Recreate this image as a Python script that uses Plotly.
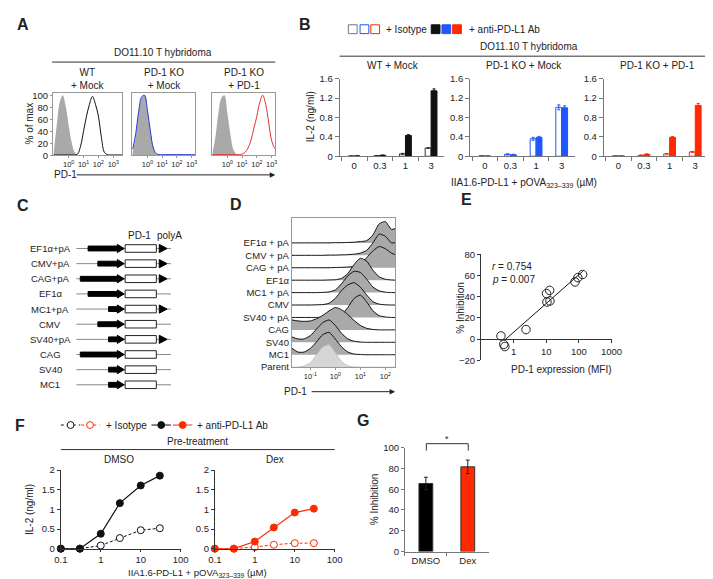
import numpy as np
import plotly.graph_objects as go

W, H = 713, 579
FONT = "Liberation Sans, Arial, Helvetica, sans-serif"
BLUE = "#1f56ff"
RED = "#ff2a00"
GRAY_FILL = "#a9a9a9"
TXT = "#222222"
TS = 10      # label text size
TK = 9.5     # tick text size

# ------------------------------------------------------------------ DATA
# Panel A: PD-1 flow histograms (% of max) on log10 PD-1 intensity bins
A_log_pd1 = [-1.0, -0.8, -0.6, -0.4, -0.2, 0.0, 0.2, 0.4, 0.6, 0.8, 1.0, 1.2,
             1.4, 1.6, 1.8, 2.0, 2.2, 2.4, 2.6, 2.8, 3.0, 3.2, 3.4, 3.6]
A_wt_isotype = [5, 50, 88, 100, 82, 50, 22, 5, 0, 0, 0, 0, 0, 0, 0, 0, 0, 0, 0, 0, 0, 0, 0, 0]
A_wt_mock = [0.5, 0.5, 0.5, 0.5, 0.5, 0.5, 0.5, 0.5, 2, 15, 40, 65, 85, 98, 85, 65, 30, 5, 1,
             0.5, 0.5, 0.5, 0.5, 0.5]
A_ko_isotype = [5, 30, 70, 95, 100, 72, 38, 12, 2, 0, 0, 0, 0, 0, 0, 0, 0, 0, 0, 0, 0, 0, 0, 0]
A_ko_mock = [10, 35, 72, 97, 100, 75, 40, 12, 3, 1, 1, 1, 1, 1, 1, 1, 1, 1, 1, 1, 1, 1, 1, 1]
A_re_isotype = [5, 32, 72, 96, 100, 70, 36, 10, 2, 0, 0, 0, 0, 0, 0, 0, 0, 0, 0, 0, 0, 0, 0, 0]
A_re_pd1 = [1, 1, 1, 1, 1, 1, 1, 1, 1, 1, 2, 5, 12, 25, 45, 65, 88, 100, 85, 55, 25, 12, 8, 6]
A_titles = ["WT<br>+ Mock", "PD-1 KO<br>+ Mock", "PD-1 KO<br>+ PD-1"]
A_ticks = [1, 10, 100, 1000]
A_ticktext = ["10<sup>0</sup>", "10<sup>1</sup>", "10<sup>2</sup>", "10<sup>3</sup>"]

# Panel B: IL-2 (ng/ml)
B_doses = ["0", "0.3", "1", "3"]
B_titles = ["WT + Mock", "PD-1 KO + Mock", "PD-1 KO + PD-1"]
B_wt_iso = [0.005, 0.01, 0.05, 0.17]
B_wt_iso_err = [0.0, 0.003, 0.01, 0.01]
B_wt_anti = [0.005, 0.02, 0.43, 1.35]
B_wt_anti_err = [0.0, 0.005, 0.015, 0.04]
B_ko_iso = [0.01, 0.04, 0.36, 1.01]
B_ko_iso_err = [0.005, 0.01, 0.03, 0.05]
B_ko_anti = [0.005, 0.03, 0.39, 1.00]
B_ko_anti_err = [0.003, 0.01, 0.02, 0.04]
B_re_iso = [0.01, 0.02, 0.05, 0.09]
B_re_iso_err = [0.0, 0.005, 0.005, 0.01]
B_re_anti = [0.01, 0.04, 0.39, 1.05]
B_re_anti_err = [0.005, 0.01, 0.015, 0.04]

# Panel C: constructs (relative promoter length, polyA present)
C_names = ["EF1\u03b1+pA", "CMV+pA", "CAG+pA", "EF1\u03b1", "MC1+pA", "CMV",
           "SV40+pA", "CAG", "SV40", "MC1"]
C_promoter_len = [37, 27, 45, 37, 16, 27, 16, 45, 16, 16]
C_polyA = [True, True, True, False, True, False, True, False, False, False]

# Panel D: offset histograms (% of max), bottom to top
D_log_pd1 = [-1.75, -1.5, -1.25, -1.0, -0.75, -0.5, -0.25, 0.0, 0.25, 0.5, 0.75, 1.0,
             1.25, 1.5, 1.75, 2.0, 2.25, 2.5]
D_labels = ["Parent", "MC1", "SV40", "CAG", "SV40 + pA", "CMV", "MC1 + pA",
            "EF1\u03b1", "CAG + pA", "CMV + pA", "EF1\u03b1 + pA"]
D_hist = [
    [0, 0, 5, 20, 55, 90, 100, 65, 25, 6, 1, 0, 0, 0, 0, 0, 0, 0],        # Parent
    [30, 12, 12, 28, 58, 90, 100, 70, 35, 12, 3, 1, 0, 0, 0, 0, 0, 0],    # MC1
    [25, 15, 15, 30, 60, 88, 100, 75, 40, 15, 5, 1, 0, 0, 0, 0, 0, 0],    # SV40
    [45, 40, 38, 40, 50, 65, 85, 100, 90, 68, 42, 20, 7, 2, 0, 0, 0, 0],  # CAG
    [0, 0, 0, 0, 0, 1, 2, 3, 12, 45, 85, 100, 70, 30, 8, 2, 0, 0],        # SV40 + pA
    [0, 0, 0, 0, 1, 2, 8, 30, 65, 90, 100, 80, 45, 15, 4, 1, 0, 0],       # CMV
    [0, 0, 0, 0, 0, 1, 3, 12, 40, 75, 95, 90, 60, 25, 8, 2, 0, 0],        # MC1 + pA
    [0, 0, 0, 0, 0, 0, 1, 2, 8, 30, 70, 98, 85, 45, 15, 4, 1, 0],         # EF1a
    [0, 0, 0, 0, 0, 0, 0, 1, 2, 3, 6, 15, 45, 75, 95, 85, 65, 55],        # CAG + pA
    [0, 0, 0, 0, 0, 0, 1, 1, 2, 3, 5, 10, 22, 55, 95, 85, 55, 60],        # CMV + pA
    [0, 0, 0, 0, 0, 0, 0, 1, 1, 2, 3, 6, 10, 35, 85, 95, 60, 70],         # EF1a + pA
]
D_ticks = [0.1, 1, 10, 100]
D_ticktext = ["10<sup>-1</sup>", "10<sup>0</sup>", "10<sup>1</sup>", "10<sup>2</sup>"]

# Panel E: % inhibition vs PD-1 MFI
E_mfi = [0.41, 0.50, 0.54, 2.4, 10.2, 12.7, 10.5, 13.0, 76, 93, 130]
E_inh = [3, -5, -7, 9, 43, 46, 35, 36, 54, 58, 61]

# Panel F: IL-2 (ng/ml) vs peptide dose
F_dose = [0.1, 0.3, 1, 3, 10, 30]
F_dmso_iso = [0, 0, 0.08, 0.27, 0.47, 0.52]
F_dmso_anti = [0, 0, 0.38, 1.16, 1.61, 1.86]
F_dex_iso = [0, 0, 0.04, 0.10, 0.14, 0.14]
F_dex_anti = [0, 0, 0.18, 0.54, 0.92, 1.02]
F_dex_anti_err = [0, 0, 0.01, 0.02, 0.03, 0.05]

# Panel G: % inhibition
G_groups = ["DMSO", "Dex"]
G_mean = [65.5, 81.5]
G_err = [6.0, 6.5]

# ------------------------------------------------------------------ HELPERS
def fx(p):
    return p / W


def fy(p):
    return 1 - p / H


def refs(i):
    return ("x" if i == 1 else f"x{i}"), ("y" if i == 1 else f"y{i}")


layout = {}
annotations = []
shapes = []
traces = []

BASE = dict(showgrid=False, zeroline=False, showline=True, linecolor="#333", linewidth=1,
            ticks="outside", ticklen=3, tickwidth=1, tickcolor="#333",
            tickfont=dict(size=TK, color=TXT, family=FONT), fixedrange=True)


def set_axes(i, xpx, ypx, xa, ya):
    xn = "xaxis" if i == 1 else f"xaxis{i}"
    yn = "yaxis" if i == 1 else f"yaxis{i}"
    xr, yr = refs(i)
    d = dict(BASE)
    d.update(domain=[fx(xpx[0]), fx(xpx[1])], anchor=yr)
    d.update(xa)
    layout[xn] = d
    d = dict(BASE)
    d.update(domain=[fy(ypx[1]), fy(ypx[0])], anchor=xr)
    d.update(ya)
    layout[yn] = d


def txt(x, y, s, size=TS, xanchor="center", yanchor="middle", angle=0, bold=False, color=TXT):
    if bold:
        s = f"<b>{s}</b>"
    annotations.append(dict(x=fx(x), y=fy(y), xref="paper", yref="paper", text=s,
                            showarrow=False, xanchor=xanchor, yanchor=yanchor,
                            textangle=angle, font=dict(size=size, family=FONT, color=color)))


def hline(x0, x1, y, color="#333", width=1, dash="solid"):
    shapes.append(dict(type="line", xref="paper", yref="paper", x0=fx(x0), x1=fx(x1),
                       y0=fy(y), y1=fy(y), line=dict(color=color, width=width, dash=dash)))


def vline(x, y0, y1, color="#333", width=1):
    shapes.append(dict(type="line", xref="paper", yref="paper", x0=fx(x), x1=fx(x),
                       y0=fy(y0), y1=fy(y1), line=dict(color=color, width=width)))


def arrow(x0, x1, y):
    annotations.append(dict(x=fx(x1), y=fy(y), xref="paper", yref="paper", ax=x0 - x1, ay=0,
                            text="", showarrow=True, arrowhead=2, arrowsize=1.1,
                            arrowwidth=1, arrowcolor="#222"))


def rect(x0, x1, y0, y1, fill, line):
    shapes.append(dict(type="rect", xref="paper", yref="paper", x0=fx(x0), x1=fx(x1),
                       y0=fy(y1), y1=fy(y0), fillcolor=fill, line=dict(color=line, width=1)))


def circle(cx, cy, r, fill, line):
    shapes.append(dict(type="circle", xref="paper", yref="paper", x0=fx(cx - r), x1=fx(cx + r),
                       y0=fy(cy + r), y1=fy(cy - r), fillcolor=fill, line=dict(color=line, width=1)))


# ------------------------------------------------------------------ PANEL A
A_px = [(39, 110, [-1.05, 3.6]), (120, 185, [-1.05, 3.25]), (202, 267, [-1.05, 3.25])]
A_sets = [(A_wt_isotype, A_wt_mock, "#111"), (A_ko_isotype, A_ko_mock, "#2233cc"),
          (A_re_isotype, A_re_pd1, "#e03030")]
A_x = [10 ** v for v in A_log_pd1]
for k in range(3):
    i = k + 1
    x0, x1, rng = A_px[k]
    set_axes(i, (x0, x1), (81, 144),
             dict(type="log", range=rng, tickvals=A_ticks, ticktext=A_ticktext, mirror=True,
                  linecolor="#999", ticklen=2, tickcolor="#999",
                  tickfont=dict(size=7.5, color=TXT, family=FONT)),
             dict(range=[0, 103], tickvals=[0, 20, 40, 60, 80, 100], mirror=True,
                  linecolor="#999", showticklabels=(k == 0), ticks="outside" if k == 0 else "",
                  ticklen=2, tickcolor="#999"))
    xr, yr = refs(i)
    iso, samp, col = A_sets[k]
    traces.append(go.Scatter(x=A_x, y=iso, xaxis=xr, yaxis=yr, mode="lines", fill="tozeroy",
                             fillcolor=GRAY_FILL, line=dict(width=0, shape="spline", color=GRAY_FILL)))
    traces.append(go.Scatter(x=A_x, y=samp, xaxis=xr, yaxis=yr, mode="lines",
                             line=dict(width=1, shape="spline", color=col)))
    txt((x0 + x1) / 2, 66, A_titles[k])

txt(8, 11, "A", size=16, bold=True)
txt(152, 39, "DO11.10 T hybridoma")
hline(38, 267, 49)
txt(15, 112, "% of max", angle=-90)
txt(52, 164, "PD-1")
arrow(67, 267, 164)

# ------------------------------------------------------------------ PANEL B
B_sets = [(B_wt_iso, B_wt_iso_err, B_wt_anti, B_wt_anti_err, "#111111", "#333333"),
          (B_ko_iso, B_ko_iso_err, B_ko_anti, B_ko_anti_err, BLUE, BLUE),
          (B_re_iso, B_re_iso_err, B_re_anti, B_re_anti_err, RED, RED)]
B_px = [333, 467, 604]
for k in range(3):
    i = 4 + k
    x0 = B_px[k]
    set_axes(i, (x0, x0 + 107), (66, 145),
             dict(type="category", categoryorder="array", categoryarray=B_doses,
                  range=[-0.57, 3.5], tickson="boundaries", ticklen=4, linecolor="#777",
                  tickcolor="#777"),
             dict(range=[0, 1.6], tickvals=[0, 0.4, 0.8, 1.2, 1.6],
                  ticktext=["0", "0.4", "0.8", "1.2", "1.6"], ticklen=4, linecolor="#777",
                  tickcolor="#777"))
    xr, yr = refs(i)
    iso, iso_e, anti, anti_e, col, ocol = B_sets[k]
    traces.append(go.Bar(x=B_doses, y=iso, xaxis=xr, yaxis=yr, width=0.23, offset=-0.23,
                         marker=dict(color="white", line=dict(color=ocol, width=1)),
                         error_y=dict(type="data", array=iso_e, color=ocol, thickness=1, width=1.5)))
    traces.append(go.Bar(x=B_doses, y=anti, xaxis=xr, yaxis=yr, width=0.23, offset=0,
                         marker=dict(color=col, line=dict(color=col, width=1)),
                         error_y=dict(type="data", array=anti_e, color=col, thickness=1, width=1.5)))
    txt(x0 + 55, 53, B_titles[k])

txt(297, 11, "B", size=16, bold=True)
for xx, c in [(342, "#777"), (354, BLUE), (365, RED)]:
    rect(xx, xx + 9, 11, 20, "white", c)
for xx, c in [(427, "#111"), (438, BLUE), (449, RED)]:
    rect(xx, xx + 9, 11, 20, c, c)
txt(379, 15.5, "+ Isotype", xanchor="left")
txt(464, 15.5, "+ anti-PD-L1 Ab", xanchor="left")
txt(527, 33, "DO11.10 T hybridoma")
hline(333, 710, 43)
txt(303, 105, "IL-2 (ng/ml)", angle=-90)
txt(522, 172, "IIA1.6-PD-L1 + pOVA<sub>323\u2013339</sub> (\u00b5M)")

# ------------------------------------------------------------------ PANEL C
n_c = len(C_names)
set_axes(7, (60, 162), (229, 388),
         dict(range=[-52, 50], visible=False),
         dict(range=[n_c - 1 + 0.65, -0.65], visible=False))
half_bar, half_head, head_len = 0.16, 0.27, 7
for r in range(n_c):
    shapes.append(dict(type="line", xref="x7", yref="y7", x0=-49, x1=48, y0=r, y1=r,
                       line=dict(color="#888", width=1), layer="above"))
for r in range(n_c):
    s = -C_promoter_len[r]
    path = (f"M {s},{r - half_bar} L {-head_len},{r - half_bar} L {-head_len},{r - half_head} "
            f"L 0,{r} L {-head_len},{r + half_head} L {-head_len},{r + half_bar} "
            f"L {s},{r + half_bar} Z")
    shapes.append(dict(type="path", xref="x7", yref="y7", path=path, fillcolor="black",
                       line=dict(color="black", width=1), layer="above"))
    shapes.append(dict(type="rect", xref="x7", yref="y7", x0=1, x1=33, y0=r - 0.25, y1=r + 0.25,
                       fillcolor="white", line=dict(color="#222", width=1), layer="above"))
    if C_polyA[r]:
        shapes.append(dict(type="path", xref="x7", yref="y7",
                           path=f"M 36,{r - half_head} L 44,{r} L 36,{r + half_head} Z",
                           fillcolor="black", line=dict(color="black", width=1), layer="above"))
    annotations.append(dict(x=fx(36), y=r, xref="paper", yref="y7", text=C_names[r],
                            showarrow=False, xanchor="center", yanchor="middle",
                            font=dict(size=TK, family=FONT, color=TXT)))
traces.append(go.Scatter(x=[0], y=[0], xaxis="x7", yaxis="y7", mode="markers",
                         marker=dict(size=1, color="rgba(0,0,0,0)")))
txt(8, 195, "C", size=16, bold=True)
txt(128, 226, "PD-1")
txt(158, 226, "polyA")

# ------------------------------------------------------------------ PANEL D
set_axes(8, (284, 390), (208, 360),
         dict(type="log", range=[-1.74, 2.39], tickvals=D_ticks, ticktext=D_ticktext,
              mirror=True, linecolor="#999", tickcolor="#999", ticklen=2,
              tickfont=dict(size=7.5, color=TXT, family=FONT)),
         dict(range=[0, 12], tickvals=list(range(len(D_labels))), ticktext=D_labels,
              ticks="", mirror=True, linecolor="#999", tickfont=dict(size=TK, color=TXT, family=FONT)))
D_x = [10 ** v for v in D_log_pd1]
peak_units = 1.8
for r in range(len(D_labels) - 1, -1, -1):
    ys = [r + v / 100 * peak_units for v in D_hist[r]]
    fillc = "#d6d6d6" if r == 0 else GRAY_FILL
    linec = "#c4c4c4" if r == 0 else "#111"
    traces.append(go.Scatter(x=D_x + D_x[::-1], y=ys + [r] * len(D_x), xaxis="x8", yaxis="y8",
                             mode="lines", fill="toself", fillcolor=fillc,
                             line=dict(width=0, color=fillc)))
    traces.append(go.Scatter(x=D_x, y=ys, xaxis="x8", yaxis="y8", mode="lines",
                             line=dict(width=1, color=linec, shape="spline", smoothing=0.6)))
txt(227, 194, "D", size=16, bold=True)
txt(288, 385, "PD-1")
arrow(305, 390, 385)

# ------------------------------------------------------------------ PANEL E
e_top, e_bot = 245, 353
y0_px = e_top + (80 - 0) / 100 * (e_bot - e_top)
set_axes(9, (478, 612), (e_top, e_bot),
         dict(type="log", range=[-1, 3], tickvals=[1, 10, 100, 1000],
              ticktext=["1", "10", "100", "1000"], anchor="free", position=fy(y0_px),
              ticklen=3),
         dict(range=[-20, 80], tickvals=[-20, 0, 20, 40, 60, 80], ticklen=3))
fit = np.polyfit(np.log10(E_mfi), E_inh, 1)
fx_line = np.array([min(E_mfi) * 1.35, max(E_mfi)])
traces.append(go.Scatter(x=fx_line, y=fit[0] * np.log10(fx_line) + fit[1], xaxis="x9", yaxis="y9",
                         mode="lines", line=dict(color="#111", width=1)))
traces.append(go.Scatter(x=E_mfi, y=E_inh, xaxis="x9", yaxis="y9", mode="markers",
                         marker=dict(size=8.5, color="rgba(255,255,255,0)",
                                     line=dict(color="#222", width=1))))
txt(463, 189, "E", size=16, bold=True)
txt(457, 299, "% Inhibition", angle=-90)
txt(561, 362, "PD-1 expression (MFI)")
txt(487, 257, "<i>r</i> = 0.754", xanchor="left")
txt(487, 271, "<i>p</i> = 0.007", xanchor="left")

# ------------------------------------------------------------------ PANEL F
F_sets = [(F_dmso_iso, F_dmso_anti, None, "#111"), (F_dex_iso, F_dex_anti, F_dex_anti_err, RED)]
F_px = [47, 205]
for k in range(2):
    i = 10 + k
    x0 = F_px[k]
    set_axes(i, (x0, x0 + 123), (465, 545),
             dict(type="log", range=[-1, 2], tickvals=[0.1, 1, 10, 100],
                  ticktext=["0.1", "1", "10", "100"], ticklen=2),
             dict(range=[0, 2], tickvals=[0, 0.5, 1, 1.5, 2],
                  ticktext=["0", "0.5", "1", "1.5", "2"], ticklen=3))
    xr, yr = refs(i)
    iso, anti, err, col = F_sets[k]
    traces.append(go.Scatter(x=F_dose, y=iso, xaxis=xr, yaxis=yr, mode="lines+markers",
                             line=dict(color=col, width=1, dash="3px,2px"),
                             marker=dict(size=7, color="white", line=dict(color=col, width=1)),
                             cliponaxis=False))
    ed = dict(type="data", array=err, color=col, thickness=1, width=2) if err else None
    traces.append(go.Scatter(x=F_dose, y=anti, xaxis=xr, yaxis=yr, mode="lines+markers",
                             line=dict(color=col, width=1.2),
                             marker=dict(size=7, color=col, line=dict(color=col, width=1)),
                             error_y=ed, cliponaxis=False))
txt(5, 419, "F", size=16, bold=True)
hline(47, 67, 419, "#111", 1, "dot")
hline(68, 87, 419, RED, 1, "dot")
circle(57, 419, 3.5, "white", "#111")
circle(77, 419, 3.5, "white", RED)
txt(91, 419, "+ Isotype", xanchor="left")
hline(140, 160, 419, "#111")
hline(162, 182, 419, RED)
circle(150, 419, 3.5, "#111", "#111")
circle(172, 419, 3.5, RED, RED)
txt(185, 419, "+ anti-PD-L1 Ab", xanchor="left")
txt(187, 436, "Pre-treatment")
hline(47, 328, 444)
txt(107, 454, "DMSO")
txt(267, 454, "Dex")
txt(15, 505, "IL-2 (ng/ml)", angle=-90)
txt(187, 570, "IIA1.6-PD-L1 + pOVA<sub>323\u2013339</sub> (\u00b5M)", size=9.5)

# ------------------------------------------------------------------ PANEL G
set_axes(12, (400, 486), (442, 548),
         dict(type="category", categoryorder="array", categoryarray=G_groups,
              range=[-0.5, 1.5], tickson="boundaries", ticklen=3, linecolor="#777",
              tickcolor="#777"),
         dict(range=[0, 100], tickvals=[0, 20, 40, 60, 80, 100], ticklen=3, linecolor="#777",
              tickcolor="#777"))
traces.append(go.Bar(x=G_groups, y=G_mean, xaxis="x12", yaxis="y12", width=0.33,
                     marker=dict(color=["#000000", RED], line=dict(color="#333", width=1)),
                     error_y=dict(type="data", array=G_err, color="#222", thickness=1, width=2)))
txt(357, 414, "G", size=16, bold=True)
txt(369, 495, "% Inhibition", angle=-90)
vline(422, 445, 438)
hline(422, 465, 438)
vline(465, 438, 445)
txt(443, 433, "*", size=9)

# ------------------------------------------------------------------ FIGURE
fig = go.Figure(data=traces)
fig.update_layout(width=W, height=H, margin=dict(l=0, r=0, t=0, b=0), showlegend=False,
                  paper_bgcolor="white", plot_bgcolor="white", barmode="overlay",
                  hovermode=False, font=dict(family=FONT, size=TS, color=TXT),
                  annotations=annotations, shapes=shapes, **layout)
fig.write_html("out.html")
